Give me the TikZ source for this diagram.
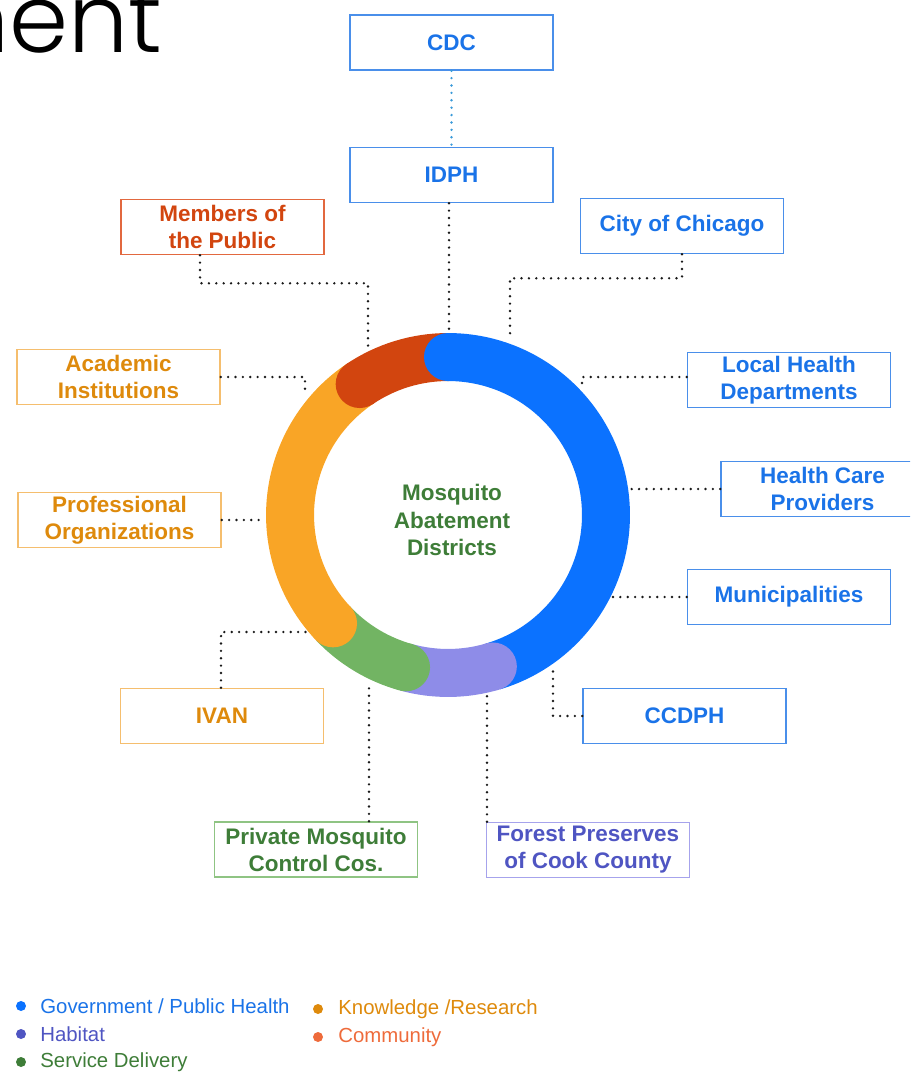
\documentclass[tikz,border=0pt]{standalone}
\usepackage{fontspec}
\setmainfont{Liberation Sans}
\newfontfamily\headfont{Poppins Light}
\usetikzlibrary{positioning}

\definecolor{govRing}{HTML}{0B72FF}
\definecolor{govText}{HTML}{1A73E8}
\definecolor{govEdge}{HTML}{4A8FEA}
\definecolor{habRing}{HTML}{8E8CE8}
\definecolor{habText}{HTML}{4F55C2}
\definecolor{habEdge}{HTML}{A6A3EC}
\definecolor{svcRing}{HTML}{72B463}
\definecolor{svcText}{HTML}{3E7D38}
\definecolor{svcEdge}{HTML}{8FC483}
\definecolor{knowRing}{HTML}{F9A526}
\definecolor{knowText}{HTML}{DE8A0C}
\definecolor{knowEdge}{HTML}{F5BE6E}
\definecolor{commRing}{HTML}{D2450F}
\definecolor{commEdge}{HTML}{E2683F}
\definecolor{commDot}{HTML}{EE6B3B}
\definecolor{cdcLink}{HTML}{3A9AD9}

\tikzset{
	party/.style={rectangle, draw, line width=0.9pt, minimum width=4.06cm, minimum height=1.1cm, inner sep=0pt, align=center, font=\bfseries\fontsize{12.8}{15.4}\selectfont},
	govbox/.style={party, draw=govEdge, text=govText},
	habbox/.style={party, draw=habEdge, text=habText},
	svcbox/.style={party, draw=svcEdge, text=svcText},
	knowbox/.style={party, draw=knowEdge, text=knowText},
	commbox/.style={party, draw=commEdge, text=commRing},
	link/.style={line width=1.5pt, line cap=round, dash pattern=on 0pt off 4.2pt, black!90},
	segment/.style={line width=0.96cm},
	legend/.style={anchor=west, inner sep=0pt, font=\fontsize{11.6}{13}\selectfont}
}

\begin{document}
\begin{tikzpicture}[x=0.02cm, y=-0.02cm]
	\useasboundingbox (0,0) rectangle (910,1072);
	\clip (0,0) rectangle (910,1072);

	\node[anchor=base east, inner sep=0pt, font=\headfont\fontsize{54}{54}\selectfont](heading) at (163,52){nent};

	% the ring
	\coordinate (hub) at (448,515);
	\draw[segment, govRing] ([shift={(90:3.16cm)}]hub) arc[start angle=90, end angle=-73.5, radius=3.16cm];
	\draw[segment, habRing] ([shift={(-73.5:3.16cm)}]hub) arc[start angle=-73.5, end angle=-105.4, radius=3.16cm];
	\draw[segment, svcRing] ([shift={(-105.4:3.16cm)}]hub) arc[start angle=-105.4, end angle=-136.7, radius=3.16cm];
	\draw[segment, knowRing] ([shift={(-136.7:3.16cm)}]hub) arc[start angle=-136.7, end angle=-236, radius=3.16cm];
	\draw[segment, commRing] ([shift={(124:3.16cm)}]hub) arc[start angle=124, end angle=90, radius=3.16cm];
	\fill[govRing] ([shift={(90:3.16cm)}]hub) circle[radius=0.48cm];
	\fill[habRing] ([shift={(-73.5:3.16cm)}]hub) circle[radius=0.48cm];
	\fill[svcRing] ([shift={(-105.4:3.16cm)}]hub) circle[radius=0.48cm];
	\fill[knowRing] ([shift={(-136.7:3.16cm)}]hub) circle[radius=0.48cm];
	\fill[commRing] ([shift={(124:3.16cm)}]hub) circle[radius=0.48cm];

	\node[align=center, text=svcText, font=\bfseries\fontsize{12.8}{15.4}\selectfont](mad) at (452,520){Mosquito\\Abatement\\Districts};

	% partners
	\node[govbox](cdc) at (451.5,42.5){CDC};
	\node[govbox](idph) at (451.5,175){IDPH};
	\node[commbox](public) at (222.5,227){Members of\\the Public};
	\node[govbox](chicago) at (682,226){City of Chicago};
	\node[knowbox](academic) at (118.5,377){Academic\\Institutions};
	\node[govbox](lhd) at (789,380){Local Health\\Departments};
	\node[govbox](hcp) at (822.5,489){Health Care\\Providers};
	\node[knowbox](profOrg) at (119.5,520){Professional\\Organizations};
	\node[govbox](munic) at (789,597){Municipalities};
	\node[knowbox](ivan) at (222,716){IVAN};
	\node[govbox](ccdph) at (684.5,716){CCDPH};
	\node[svcbox](private) at (316,849.5){Private Mosquito\\Control Cos.};
	\node[habbox](forest) at (588,850){Forest Preserves\\of Cook County};

	% where the links meet the ring
	\coordinate (idphEnd) at (449,333);
	\coordinate (publicEnd) at (368,347);
	\coordinate (chicagoEnd) at (510,340);
	\coordinate (academicEnd) at (305,395);
	\coordinate (lhdEnd) at (582,386);
	\coordinate (hcpEnd) at (630,489);
	\coordinate (profOrgEnd) at (264,520);
	\coordinate (municEnd) at (610,597);
	\coordinate (ivanEnd) at (308,632);
	\coordinate (ccdphEnd) at (553,665);
	\coordinate (privateEnd) at (369,683);
	\coordinate (forestEnd) at (487,695);

	\draw[link, cdcLink](cdc) -- (idph);
	\draw[link]([xshift=-0.05cm]idph.south) -- (idphEnd);
	\draw[link]([xshift=-0.45cm]public.south) -- ++(0,28) -| (publicEnd);
	\draw[link](chicago.south) -- ++(0,24) -| (chicagoEnd);
	\draw[link](academic.east) -| (academicEnd);
	\draw[link]([yshift=0.06cm]lhd.west) -| (lhdEnd);
	\draw[link](hcp.west) -- (hcpEnd);
	\draw[link](profOrg.east) -- (profOrgEnd);
	\draw[link](munic.west) -- (municEnd);
	\draw[link]([xshift=-0.02cm]ivan.north) |- (ivanEnd);
	\draw[link](ccdph.west) -| (ccdphEnd);
	\draw[link](private.north -| privateEnd) -- (privateEnd);
	\draw[link](forest.north -| forestEnd) -- (forestEnd);

	% legend
	\fill[govRing] (21,1006) circle[radius=0.1cm];
	\node[legend, text=govText](legGov) at (40,1006){Government / Public Health};
	\fill[habText] (21,1034) circle[radius=0.1cm];
	\node[legend, text=habText](legHab) at (40,1034){Habitat};
	\fill[svcText] (21,1062) circle[radius=0.1cm];
	\node[legend, text=svcText](legSvc) at (40,1062){Service Delivery};
	\fill[knowText] (318,1009) circle[radius=0.1cm];
	\node[legend, text=knowText](legKnow) at (338,1009){Knowledge /Research};
	\fill[commDot] (318,1037) circle[radius=0.1cm];
	\node[legend, text=commDot](legComm) at (338,1037){Community};
\end{tikzpicture}
\end{document}
